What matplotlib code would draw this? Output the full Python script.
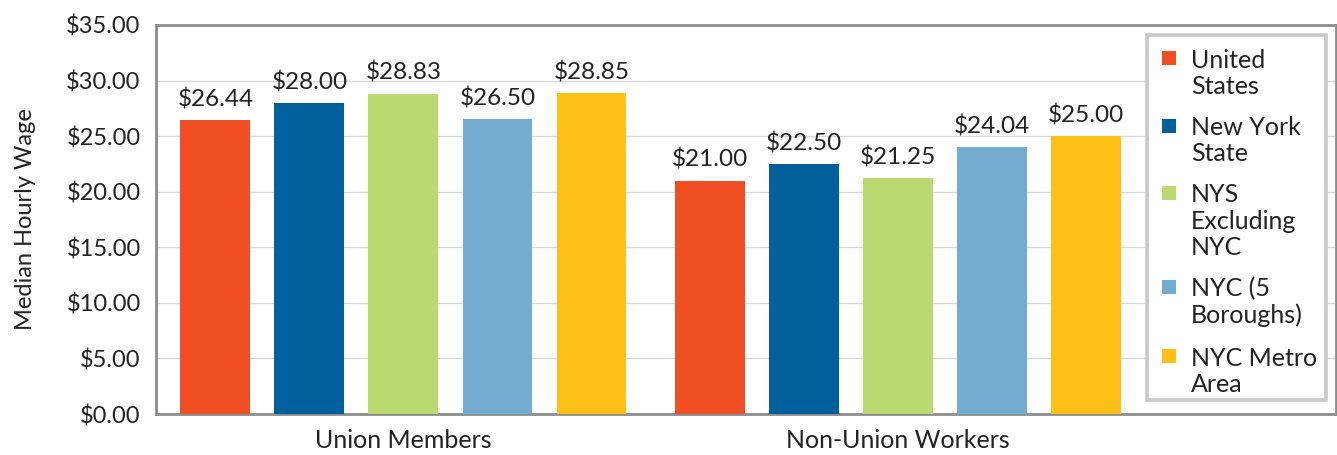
import matplotlib
matplotlib.use("Agg")
import matplotlib.pyplot as plt
from matplotlib.patches import Rectangle
import numpy as np

groups = ["Union Members", "Non-Union Workers"]
series = ["United\nStates", "New York\nState", "NYS\nExcluding\nNYC", "NYC (5\nBoroughs)", "NYC Metro\nArea"]
values = [
    [26.44, 21.00],
    [28.00, 22.50],
    [28.83, 21.25],
    [26.50, 24.04],
    [28.85, 25.00],
]
colors = ["#F04E23", "#00609C", "#B9D971", "#74ABD0", "#FDC017"]
yticks = [0, 5, 10, 15, 20, 25, 30, 35]

plt.rcParams['font.family'] = ['Lato', 'DejaVu Sans']
TXT = "#222222"

W, H = 1337, 455
fig = plt.figure(figsize=(W / 100, H / 100), dpi=100)
ax = fig.add_axes([156 / W, 1 - 414 / H, 1180 / W, 389 / H])

x = np.arange(len(groups))
slot = 0.19
width = 0.141
for i, (name, vals, c) in enumerate(zip(series, values, colors)):
    pos = x + (i - 2) * slot
    bars = ax.bar(pos, vals, width=width, color=c, label=name, zorder=3)
    for b, v in zip(bars, vals):
        ax.annotate(f"${v:.2f}", (b.get_x() + b.get_width() / 2, v),
                    xytext=(0, 7), textcoords="offset points",
                    ha="center", va="bottom", fontsize=17.5, color=TXT, zorder=4)

ax.set_xlim(-0.5, 1.885)
ax.set_ylim(0, 35)
ax.set_yticks(yticks)
ax.set_yticklabels([f"${v:.2f}" for v in yticks], fontsize=17, color=TXT)
ax.set_xticks(x)
ax.set_xticklabels(groups, fontsize=18, color=TXT)
ax.tick_params(axis="x", length=0, pad=11)
ax.tick_params(axis="y", length=0, pad=11)
ax.yaxis.grid(True, color="#d9d9d9", linewidth=1, zorder=0)
ax.set_axisbelow(True)
for s in ax.spines.values():
    s.set_color("#8c8c8c")
    s.set_linewidth(2)
ax.set_ylabel("Median Hourly Wage", fontsize=17, color=TXT)
ax.yaxis.set_label_coords((36 - 156) / 1180, 0.5)

# Legend (drawn manually so squares align with the first line of each label)
def fx(px):
    return px / W

def fy(py):
    return 1 - py / H

frame = Rectangle((fx(1147), fy(400)), fx(1326) - fx(1147), fy(35) - fy(400),
                  transform=fig.transFigure, facecolor="white",
                  edgecolor="#c8c8c8", linewidth=2.6, zorder=5)
fig.add_artist(frame)
first_line_centers = [58.5, 125.5, 192.5, 286.5, 356]
line_pitch = 26.5
sq = 14
for name, c, yc in zip(series, colors, first_line_centers):
    fig.add_artist(Rectangle((fx(1162), fy(yc + sq / 2)), sq / W, sq / H,
                             transform=fig.transFigure, facecolor=c,
                             edgecolor="none", zorder=6))
    for k, line in enumerate(name.split("\n")):
        fig.text(fx(1191), fy(yc + k * line_pitch), line, fontsize=18,
                 color=TXT, ha="left", va="center_baseline", zorder=6)

fig.savefig("out.png", dpi=100)
